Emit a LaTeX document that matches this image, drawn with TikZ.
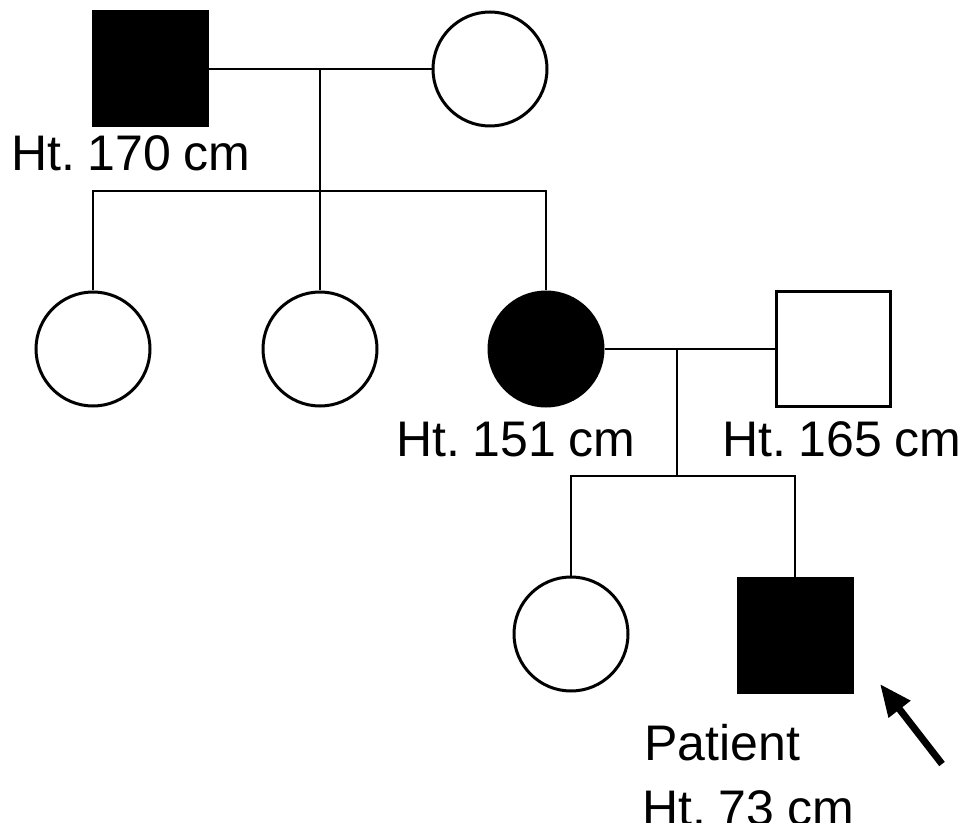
\documentclass[tikz,border=0pt]{standalone}
\usepackage{fontspec}
\setmainfont[WordSpace=0.9]{Liberation Sans}
\frenchspacing
\usetikzlibrary{arrows.meta,positioning}

\begin{document}
\begin{tikzpicture}[x=1pt,y=-1pt,
  line width=3pt,
  male/.style={rectangle,draw=black,fill=white,minimum size=114pt,inner sep=0pt},
  female/.style={circle,draw=black,fill=white,minimum size=114pt,inner sep=0pt},
  aff/.style={fill=black},
  edge/.style={draw=black,line width=2.8pt},
  ht/.style={font=\fontsize{50}{60}\selectfont,inner sep=0pt,anchor=base west},
  ptarrow/.style={-{Triangle[length=32pt,width=26pt]},line width=7pt}
]
  \useasboundingbox (0,0) rectangle (969,834);

  % Generation I
  \node[male,aff]  (gf) at (150,69) {};
  \node[female]    (gm) at (490,69) {};
  \coordinate (m1) at (320,69);
  \coordinate (s1) at (320,191);

  % Generation II
  \node[female]     (a1) at (93,349)  {};
  \node[female]     (a2) at (320,349) {};
  \node[female,aff] (mo) at (546,349) {};
  \node[male]       (fa) at (833,349) {};
  \coordinate (m2) at (677,349);
  \coordinate (s2) at (677,476);

  % Generation III
  \node[female]   (sis) at (571,634) {};
  \node[male,aff] (pt)  at (795,635) {};

  % Lines of descent
  \draw[edge] (gf.east) -- (gm.west);
  \draw[edge] (m1) -- (s1);
  \draw[edge] (a1.north) |- (s1) -| (mo.north);
  \draw[edge] (s1) -- (a2.north);
  \draw[edge] (mo.east) -- (fa.west);
  \draw[edge] (m2) -- (s2);
  \draw[edge] (sis.north) |- (s2) -| (pt.north);

  % Heights
  \node[ht] (hgf) at (10,171)  {Ht. 170 cm};
  \node[ht] (hmo) at (395,456) {Ht. 151 cm};
  \node[ht] (hfa) at (721,456) {Ht. 165 cm};
  \node[ht] (hpt) at (643,760) {Patient};
  \begin{scope}
    \clip (0,0) rectangle (969,822);
    \node[ht] (hpt2) at (641,825) {Ht. 73 cm};
  \end{scope}

  % Proband arrow
  \coordinate (atail) at (942,764);
  \coordinate (ahead) at (880,684);
  \draw[ptarrow] (atail) -- (ahead);
\end{tikzpicture}
\end{document}
